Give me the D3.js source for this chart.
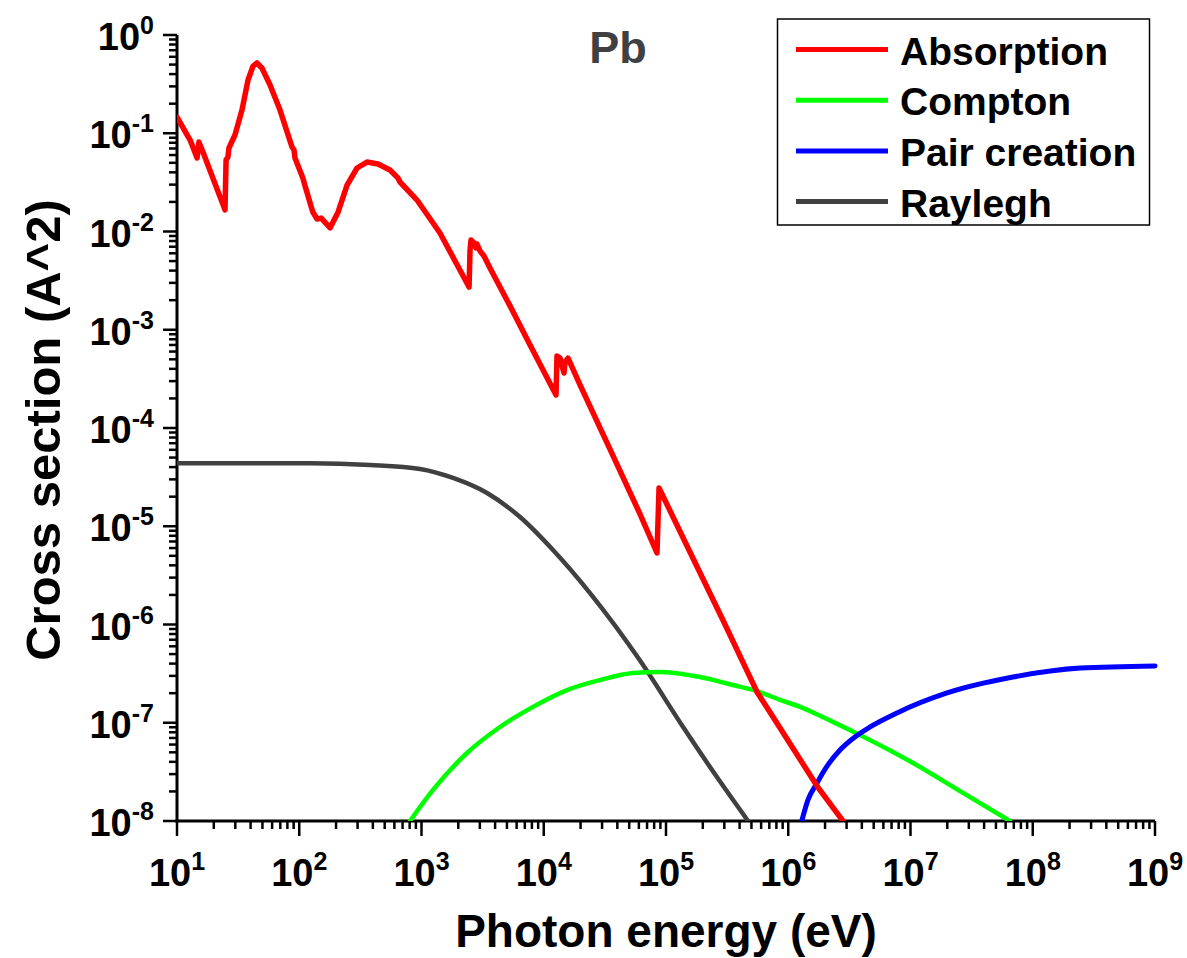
<!DOCTYPE html>
<html>
<head>
<meta charset="utf-8">
<script src="https://cdn.jsdelivr.net/npm/d3@7"></script>
<style>
  body { margin: 0; background: #fff; }
  text { font-family: "Liberation Sans", Arial, sans-serif; font-weight: bold; }
</style>
</head>
<body>
<svg id="chart" width="1187" height="958"></svg>
<script>
// photon energy (eV) and cross section (A^2)
const absE = [10, 12.8, 14.6, 15.1, 16.3, 24.7, 25.2, 26.1, 26.6, 29.8, 34.0, 38.1, 41.9, 45.1, 49.5, 57.7, 69.6,
  87.3, 90.6, 92.3, 107, 111, 129, 140, 151, 179, 208, 246, 297, 358, 441, 552, 642, 667, 919, 1416,
  2449, 2495, 2541, 2687, 2790, 2844, 3011, 3245, 3631, 5297, 7726,
  12600, 12830, 13580, 14650, 14930, 15790, 19800, 34800, 61300, 84400, 87700,
  157000, 292000, 555000, 682000, 857000, 1.72e6, 2.8e6];
const absS = [0.146, 0.0853, 0.056, 0.0815, 0.0645, 0.0166, 0.0534, 0.0573, 0.0708, 0.096, 0.172, 0.348, 0.483, 0.519, 0.461, 0.31, 0.172,
  0.0724, 0.0675, 0.056, 0.0351, 0.0297, 0.0158, 0.0134, 0.0137, 0.0109, 0.0158, 0.0297, 0.0443, 0.0509, 0.0486, 0.0423, 0.0351, 0.0319, 0.0209, 0.00966,
  0.00272, 0.00648, 0.00819, 0.00763, 0.00679, 0.00746, 0.00633, 0.00563, 0.00425, 0.00175, 7.0e-4,
  2.17e-4, 5.4e-4, 5.15e-4, 3.63e-4, 4.7e-4, 5.15e-4, 2.74e-4, 6.1e-5, 1.33e-5, 5.34e-6, 2.45e-5,
  5.47e-6, 1.11e-6, 2.06e-7, 1.38e-7, 8.85e-8, 2.27e-8, 1.0e-8];

const compE = [805, 1242, 2355, 4385, 8165, 15500, 28800, 53700, 89300, 190000, 353000, 555000, 857000,
  1.25e6, 2.32e6, 3.86e6, 1.05e7, 2.69e7, 6.5e7];
const compS = [1.0e-8, 2.07e-8, 4.92e-8, 9.05e-8, 1.45e-7, 2.15e-7, 2.72e-7, 3.21e-7, 3.29e-7, 2.92e-7, 2.42e-7, 2.1e-7, 1.71e-7,
  1.45e-7, 1.02e-7, 7.5e-8, 3.89e-8, 1.93e-8, 1.0e-8];

const pairE = [1.29e6, 1.45e6, 1.72e6, 2.11e6, 2.65e6, 3.51e6, 4.67e6, 7.76e6, 1.99e7, 6.89e7, 2.44e8, 1e9];
const pairS = [1.0e-8, 1.64e-8, 2.44e-8, 3.72e-8, 5.28e-8, 7.17e-8, 9.06e-8, 1.26e-7, 2.01e-7, 2.92e-7, 3.6e-7, 3.79e-7];

const rayE = [10, 122, 379, 973, 1811, 3436, 6398, 11900, 23900, 61300, 138000, 261000, 469000];
const rayS = [4.37e-5, 4.37e-5, 4.2e-5, 3.83e-5, 3.1e-5, 2.18e-5, 1.24e-5, 5.73e-6, 2.09e-6, 4.3e-7, 9.05e-8, 2.8e-8, 1.0e-8];

const seriesNames = ["Absorption", "Compton", "Pair creation", "Raylegh"];
const seriesColors = ["#ff0000", "#00ff00", "#0000ff", "#404040"];

const xExps = [1, 2, 3, 4, 5, 6, 7, 8, 9];
const yExps = [0, -1, -2, -3, -4, -5, -6, -7, -8];

const svg = d3.select("#chart");
const m = { left: 177, right: 1155, top: 35, bottom: 821 };

const x = d3.scaleLog().domain([1e1, 1e9]).range([m.left, m.right]);
const y = d3.scaleLog().domain([1e-8, 1e0]).range([m.bottom, m.top]);

svg.append("clipPath").attr("id", "clip")
  .append("rect").attr("x", m.left).attr("y", m.top - 5)
  .attr("width", m.right - m.left + 5).attr("height", m.bottom - m.top + 5);

// tick values: decades plus 2..9 in between
const minors = (lo, hi) => {
  const out = [];
  for (let e = lo; e < hi; e++) for (let k = 2; k <= 9; k++) out.push(k * Math.pow(10, e));
  return out;
};
const xMaj = xExps.map(e => Math.pow(10, e));
const yMaj = yExps.map(e => Math.pow(10, e));

const axes = svg.append("g").attr("stroke", "#000").attr("stroke-width", 2.5);
axes.selectAll("line.xt").data(xMaj.map(v => [v, 15]).concat(minors(1, 9).map(v => [v, 8])))
  .join("line").attr("class", "xt")
  .attr("x1", d => x(d[0])).attr("x2", d => x(d[0]))
  .attr("y1", m.bottom).attr("y2", d => m.bottom + d[1]);
axes.selectAll("line.yt").data(yMaj.map(v => [v, 14]).concat(minors(-8, 0).map(v => [v, 8])))
  .join("line").attr("class", "yt")
  .attr("y1", d => y(d[0])).attr("y2", d => y(d[0]))
  .attr("x1", m.left).attr("x2", d => m.left - d[1]);
axes.append("line").attr("x1", m.left - 1.5).attr("x2", m.right).attr("y1", m.bottom).attr("y2", m.bottom)
  .attr("stroke-width", 3);
axes.append("line").attr("x1", m.left).attr("x2", m.left).attr("y1", m.top).attr("y2", m.bottom + 1.5)
  .attr("stroke-width", 3);

// tick labels with superscripts
const xl = svg.append("g");
xExps.forEach(e => {
  const t = xl.append("text").attr("x", x(Math.pow(10, e))).attr("y", 886)
    .attr("text-anchor", "middle").attr("font-size", 38);
  t.append("tspan").text("10");
  t.append("tspan").attr("dy", -16).attr("font-size", 25).text(e);
});
const yl = svg.append("g");
yExps.forEach(e => {
  const t = yl.append("text").attr("x", 154).attr("y", y(Math.pow(10, e)) + 15)
    .attr("text-anchor", "end").attr("font-size", 38);
  t.append("tspan").text("10");
  t.append("tspan").attr("dy", -16).attr("font-size", 25).text(e === 0 ? "0" : "-" + Math.abs(e));
});

// axis titles
svg.append("text").attr("x", 666).attr("y", 947).attr("text-anchor", "middle")
  .attr("font-size", 46).text("Photon energy (eV)");
svg.append("text").attr("transform", "translate(60,430) rotate(-90)").attr("text-anchor", "middle")
  .attr("font-size", 49).text("Cross section (A^2)");

svg.append("text").attr("x", 618).attr("y", 63).attr("text-anchor", "middle")
  .attr("font-size", 45).attr("fill", "#404040").text("Pb");

// curves
const line = d3.line().x(d => x(d[0])).y(d => y(d[1]));
const smooth = d3.line().x(d => x(d[0])).y(d => y(d[1])).curve(d3.curveMonotoneX);
const plot = svg.append("g").attr("clip-path", "url(#clip)");
const series = [
  { e: absE, s: absS, gen: line, w: 5.5 },
  { e: compE, s: compS, gen: smooth, w: 4.5 },
  { e: pairE, s: pairS, gen: smooth, w: 5 },
  { e: rayE, s: rayS, gen: smooth, w: 4.5 }
];
// draw order: Rayleigh, Compton, pair, absorption on top
[3, 1, 2, 0].forEach(i => {
  const sr = series[i];
  plot.append("path").datum(sr.e.map((v, k) => [v, sr.s[k]]))
    .attr("fill", "none").attr("stroke", seriesColors[i]).attr("stroke-width", sr.w)
    .attr("stroke-linejoin", "round").attr("stroke-linecap", "round")
    .attr("d", sr.gen);
});

// legend
const lg = svg.append("g");
lg.append("rect").attr("x", 777.5).attr("y", 19).attr("width", 372).attr("height", 206)
  .attr("fill", "#fff").attr("stroke", "#000").attr("stroke-width", 1.5);
seriesNames.forEach((n, i) => {
  const ly = 49.5 + i * 50.7;
  lg.append("line").attr("x1", 796).attr("x2", 888).attr("y1", ly).attr("y2", ly)
    .attr("stroke", seriesColors[i]).attr("stroke-width", 5);
  lg.append("text").attr("x", 900).attr("y", ly + 15).attr("font-size", 39).text(n);
});
</script>
</body>
</html>
